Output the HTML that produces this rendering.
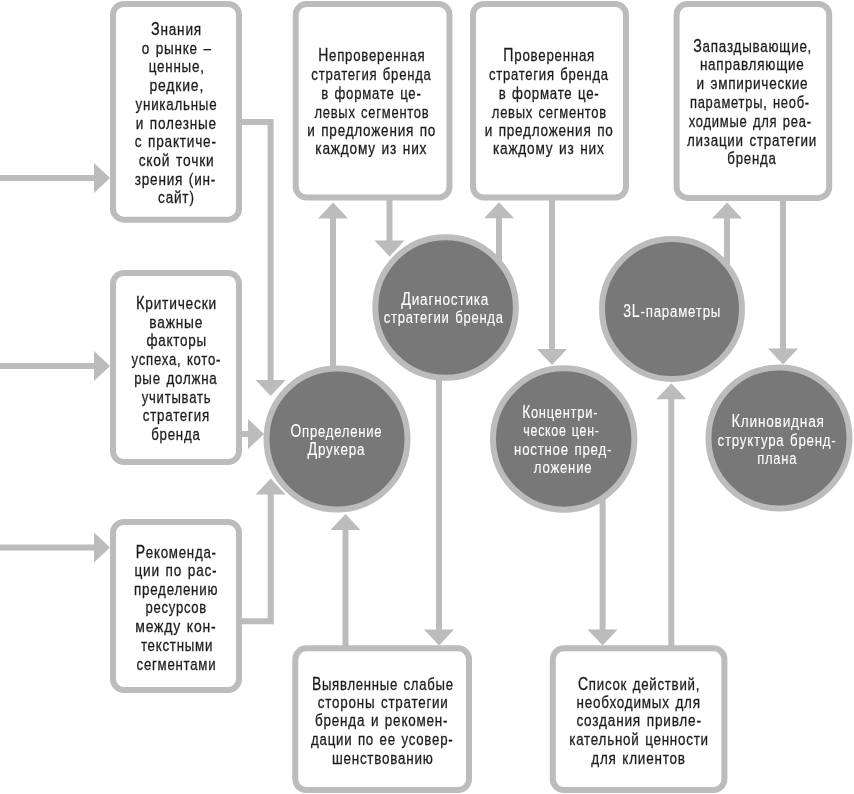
<!DOCTYPE html>
<html><head><meta charset="utf-8"><style>
html,body{margin:0;padding:0;background:#fff;width:854px;height:794px;overflow:hidden}
svg{display:block;font-family:"Liberation Sans",sans-serif;will-change:transform}
</style></head><body>
<svg width="854" height="794" viewBox="0 0 854 794">
<path d="M0.00 178.00 L95.00 178.00" fill="none" stroke="#bcbcbc" stroke-width="6.0"/>
<path d="M0.00 366.00 L95.00 366.00" fill="none" stroke="#bcbcbc" stroke-width="6.0"/>
<path d="M0.00 547.50 L95.00 547.50" fill="none" stroke="#bcbcbc" stroke-width="6.0"/>
<path d="M240.00 122.00 L270.60 122.00 L270.60 381.00" fill="none" stroke="#bcbcbc" stroke-width="6.0"/>
<path d="M240.00 434.00 L249.00 434.00" fill="none" stroke="#bcbcbc" stroke-width="6.0"/>
<path d="M240.00 621.30 L270.70 621.30 L270.70 493.00" fill="none" stroke="#bcbcbc" stroke-width="6.0"/>
<path d="M333.00 400.00 L333.00 217.00" fill="none" stroke="#bcbcbc" stroke-width="6.0"/>
<path d="M389.50 198.00 L389.50 241.00" fill="none" stroke="#bcbcbc" stroke-width="6.0"/>
<path d="M499.00 300.00 L499.00 217.00" fill="none" stroke="#bcbcbc" stroke-width="6.0"/>
<path d="M552.00 198.00 L552.00 350.00" fill="none" stroke="#bcbcbc" stroke-width="6.0"/>
<path d="M439.00 340.00 L439.00 631.00" fill="none" stroke="#bcbcbc" stroke-width="6.0"/>
<path d="M345.50 648.00 L345.50 528.00" fill="none" stroke="#bcbcbc" stroke-width="6.0"/>
<path d="M602.60 470.00 L602.60 631.00" fill="none" stroke="#bcbcbc" stroke-width="6.0"/>
<path d="M671.30 648.00 L671.30 398.00" fill="none" stroke="#bcbcbc" stroke-width="6.0"/>
<path d="M727.00 300.00 L727.00 217.00" fill="none" stroke="#bcbcbc" stroke-width="6.0"/>
<path d="M783.00 198.00 L783.00 351.00" fill="none" stroke="#bcbcbc" stroke-width="6.0"/>
<polygon points="110.00,178.00 94.00,163.00 94.00,193.00" fill="#bcbcbc"/>
<polygon points="110.00,366.00 94.00,351.00 94.00,381.00" fill="#bcbcbc"/>
<polygon points="110.00,547.50 94.00,532.50 94.00,562.50" fill="#bcbcbc"/>
<polygon points="270.60,396.00 255.60,380.00 285.60,380.00" fill="#bcbcbc"/>
<polygon points="264.00,434.00 248.00,419.00 248.00,449.00" fill="#bcbcbc"/>
<polygon points="270.70,478.50 255.70,494.50 285.70,494.50" fill="#bcbcbc"/>
<polygon points="333.00,202.50 318.00,218.50 348.00,218.50" fill="#bcbcbc"/>
<polygon points="389.50,256.50 374.50,240.50 404.50,240.50" fill="#bcbcbc"/>
<polygon points="499.00,202.20 484.00,218.20 514.00,218.20" fill="#bcbcbc"/>
<polygon points="552.00,365.00 537.00,349.00 567.00,349.00" fill="#bcbcbc"/>
<polygon points="439.00,645.50 424.00,629.50 454.00,629.50" fill="#bcbcbc"/>
<polygon points="345.50,514.00 330.50,530.00 360.50,530.00" fill="#bcbcbc"/>
<polygon points="602.60,645.50 587.60,629.50 617.60,629.50" fill="#bcbcbc"/>
<polygon points="671.30,383.30 656.30,399.30 686.30,399.30" fill="#bcbcbc"/>
<polygon points="727.00,202.50 712.00,218.50 742.00,218.50" fill="#bcbcbc"/>
<polygon points="783.00,364.60 768.00,348.60 798.00,348.60" fill="#bcbcbc"/>
<rect x="113.00" y="4.00" width="126.00" height="215.70" rx="11.00" fill="#fff" stroke="#bcbcbc" stroke-width="6.0"/>
<rect x="113.00" y="273.00" width="126.00" height="189.00" rx="11.00" fill="#fff" stroke="#bcbcbc" stroke-width="6.0"/>
<rect x="113.00" y="522.00" width="126.00" height="168.00" rx="11.00" fill="#fff" stroke="#bcbcbc" stroke-width="6.0"/>
<rect x="295.70" y="4.00" width="153.80" height="193.50" rx="11.00" fill="#fff" stroke="#bcbcbc" stroke-width="6.0"/>
<rect x="473.00" y="4.00" width="153.00" height="193.50" rx="11.00" fill="#fff" stroke="#bcbcbc" stroke-width="6.0"/>
<rect x="676.60" y="4.00" width="152.60" height="193.90" rx="11.00" fill="#fff" stroke="#bcbcbc" stroke-width="6.0"/>
<rect x="295.30" y="648.30" width="173.70" height="141.70" rx="11.00" fill="#fff" stroke="#bcbcbc" stroke-width="6.0"/>
<rect x="552.80" y="648.30" width="171.60" height="141.70" rx="11.00" fill="#fff" stroke="#bcbcbc" stroke-width="6.0"/>
<circle cx="337" cy="439" r="70.50" fill="#787878" stroke="#bcbcbc" stroke-width="6.0"/>
<circle cx="445.6" cy="307.5" r="70.30" fill="#787878" stroke="#bcbcbc" stroke-width="6.0"/>
<circle cx="563.7" cy="439" r="70.70" fill="#787878" stroke="#bcbcbc" stroke-width="6.0"/>
<circle cx="672" cy="309" r="70.00" fill="#787878" stroke="#bcbcbc" stroke-width="6.0"/>
<circle cx="779" cy="438" r="70.50" fill="#787878" stroke="#bcbcbc" stroke-width="6.0"/>
<g font-family="Liberation Sans, sans-serif" font-size="17.4" letter-spacing="1.0" word-spacing="1.5">
<text x="150.97" y="34.90" textLength="50.97" lengthAdjust="spacingAndGlyphs" fill="#1c1c1c" stroke="#1c1c1c" stroke-width="0.3"><tspan font-size="18.44">З</tspan>нания</text>
<text x="141.73" y="53.60" textLength="70.08" lengthAdjust="spacingAndGlyphs" fill="#1c1c1c" stroke="#1c1c1c" stroke-width="0.3">о рынке –</text>
<text x="148.81" y="71.80" textLength="55.83" lengthAdjust="spacingAndGlyphs" fill="#1c1c1c" stroke="#1c1c1c" stroke-width="0.3">ценные,</text>
<text x="149.45" y="90.80" textLength="54.67" lengthAdjust="spacingAndGlyphs" fill="#1c1c1c" stroke="#1c1c1c" stroke-width="0.3">редкие,</text>
<text x="135.59" y="109.80" textLength="81.84" lengthAdjust="spacingAndGlyphs" fill="#1c1c1c" stroke="#1c1c1c" stroke-width="0.3">уникальные</text>
<text x="135.80" y="128.50" textLength="81.03" lengthAdjust="spacingAndGlyphs" fill="#1c1c1c" stroke="#1c1c1c" stroke-width="0.3">и полезные</text>
<text x="134.73" y="147.10" textLength="82.03" lengthAdjust="spacingAndGlyphs" fill="#1c1c1c" stroke="#1c1c1c" stroke-width="0.3">с практиче-</text>
<text x="138.68" y="166.00" textLength="75.88" lengthAdjust="spacingAndGlyphs" fill="#1c1c1c" stroke="#1c1c1c" stroke-width="0.3">ской точки</text>
<text x="134.72" y="184.70" textLength="81.40" lengthAdjust="spacingAndGlyphs" fill="#1c1c1c" stroke="#1c1c1c" stroke-width="0.3">зрения (ин-</text>
<text x="158.10" y="203.30" textLength="36.59" lengthAdjust="spacingAndGlyphs" fill="#1c1c1c" stroke="#1c1c1c" stroke-width="0.3">сайт)</text>
<text x="135.97" y="309.30" textLength="80.95" lengthAdjust="spacingAndGlyphs" fill="#1c1c1c" stroke="#1c1c1c" stroke-width="0.3"><tspan font-size="18.44">К</tspan>ритически</text>
<text x="149.37" y="327.90" textLength="53.81" lengthAdjust="spacingAndGlyphs" fill="#1c1c1c" stroke="#1c1c1c" stroke-width="0.3">важные</text>
<text x="146.38" y="346.40" textLength="60.62" lengthAdjust="spacingAndGlyphs" fill="#1c1c1c" stroke="#1c1c1c" stroke-width="0.3">факторы</text>
<text x="131.60" y="365.10" textLength="89.53" lengthAdjust="spacingAndGlyphs" fill="#1c1c1c" stroke="#1c1c1c" stroke-width="0.3">успеха, кото-</text>
<text x="134.14" y="384.20" textLength="83.41" lengthAdjust="spacingAndGlyphs" fill="#1c1c1c" stroke="#1c1c1c" stroke-width="0.3">рые должна</text>
<text x="141.71" y="402.90" textLength="69.51" lengthAdjust="spacingAndGlyphs" fill="#1c1c1c" stroke="#1c1c1c" stroke-width="0.3">учитывать</text>
<text x="142.73" y="421.20" textLength="67.20" lengthAdjust="spacingAndGlyphs" fill="#1c1c1c" stroke="#1c1c1c" stroke-width="0.3">стратегия</text>
<text x="151.21" y="439.90" textLength="49.34" lengthAdjust="spacingAndGlyphs" fill="#1c1c1c" stroke="#1c1c1c" stroke-width="0.3">бренда</text>
<text x="135.70" y="557.50" textLength="81.10" lengthAdjust="spacingAndGlyphs" fill="#1c1c1c" stroke="#1c1c1c" stroke-width="0.3"><tspan font-size="18.44">Р</tspan>екоменда-</text>
<text x="134.47" y="576.40" textLength="82.94" lengthAdjust="spacingAndGlyphs" fill="#1c1c1c" stroke="#1c1c1c" stroke-width="0.3">ции по рас-</text>
<text x="134.00" y="594.70" textLength="84.27" lengthAdjust="spacingAndGlyphs" fill="#1c1c1c" stroke="#1c1c1c" stroke-width="0.3">пределению</text>
<text x="145.45" y="613.30" textLength="61.61" lengthAdjust="spacingAndGlyphs" fill="#1c1c1c" stroke="#1c1c1c" stroke-width="0.3">ресурсов</text>
<text x="135.30" y="631.90" textLength="81.16" lengthAdjust="spacingAndGlyphs" fill="#1c1c1c" stroke="#1c1c1c" stroke-width="0.3">между кон-</text>
<text x="140.89" y="650.60" textLength="72.22" lengthAdjust="spacingAndGlyphs" fill="#1c1c1c" stroke="#1c1c1c" stroke-width="0.3">текстными</text>
<text x="136.52" y="669.50" textLength="79.85" lengthAdjust="spacingAndGlyphs" fill="#1c1c1c" stroke="#1c1c1c" stroke-width="0.3">сегментами</text>
<text x="318.15" y="61.40" textLength="107.29" lengthAdjust="spacingAndGlyphs" fill="#1c1c1c" stroke="#1c1c1c" stroke-width="0.3"><tspan font-size="18.44">Н</tspan>епроверенная</text>
<text x="311.35" y="80.20" textLength="120.26" lengthAdjust="spacingAndGlyphs" fill="#1c1c1c" stroke="#1c1c1c" stroke-width="0.3">стратегия бренда</text>
<text x="321.21" y="99.00" textLength="100.39" lengthAdjust="spacingAndGlyphs" fill="#1c1c1c" stroke="#1c1c1c" stroke-width="0.3">в формате це-</text>
<text x="314.43" y="117.90" textLength="115.04" lengthAdjust="spacingAndGlyphs" fill="#1c1c1c" stroke="#1c1c1c" stroke-width="0.3">левых сегментов</text>
<text x="307.21" y="135.80" textLength="128.97" lengthAdjust="spacingAndGlyphs" fill="#1c1c1c" stroke="#1c1c1c" stroke-width="0.3">и предложения по</text>
<text x="315.34" y="154.30" textLength="111.91" lengthAdjust="spacingAndGlyphs" fill="#1c1c1c" stroke="#1c1c1c" stroke-width="0.3">каждому из них</text>
<text x="503.33" y="61.40" textLength="91.75" lengthAdjust="spacingAndGlyphs" fill="#1c1c1c" stroke="#1c1c1c" stroke-width="0.3"><tspan font-size="18.44">П</tspan>роверенная</text>
<text x="488.92" y="80.20" textLength="119.97" lengthAdjust="spacingAndGlyphs" fill="#1c1c1c" stroke="#1c1c1c" stroke-width="0.3">стратегия бренда</text>
<text x="498.75" y="99.00" textLength="100.71" lengthAdjust="spacingAndGlyphs" fill="#1c1c1c" stroke="#1c1c1c" stroke-width="0.3">в формате це-</text>
<text x="491.83" y="117.90" textLength="115.16" lengthAdjust="spacingAndGlyphs" fill="#1c1c1c" stroke="#1c1c1c" stroke-width="0.3">левых сегментов</text>
<text x="484.63" y="135.80" textLength="129.03" lengthAdjust="spacingAndGlyphs" fill="#1c1c1c" stroke="#1c1c1c" stroke-width="0.3">и предложения по</text>
<text x="492.97" y="154.30" textLength="111.59" lengthAdjust="spacingAndGlyphs" fill="#1c1c1c" stroke="#1c1c1c" stroke-width="0.3">каждому из них</text>
<text x="693.26" y="51.80" textLength="118.87" lengthAdjust="spacingAndGlyphs" fill="#1c1c1c" stroke="#1c1c1c" stroke-width="0.3"><tspan font-size="18.44">З</tspan>апаздывающие,</text>
<text x="699.90" y="70.20" textLength="104.66" lengthAdjust="spacingAndGlyphs" fill="#1c1c1c" stroke="#1c1c1c" stroke-width="0.3">направляющие</text>
<text x="696.42" y="88.70" textLength="112.03" lengthAdjust="spacingAndGlyphs" fill="#1c1c1c" stroke="#1c1c1c" stroke-width="0.3">и эмпирические</text>
<text x="689.96" y="108.30" textLength="119.88" lengthAdjust="spacingAndGlyphs" fill="#1c1c1c" stroke="#1c1c1c" stroke-width="0.3">параметры, необ-</text>
<text x="688.67" y="127.20" textLength="123.04" lengthAdjust="spacingAndGlyphs" fill="#1c1c1c" stroke="#1c1c1c" stroke-width="0.3">ходимые для реа-</text>
<text x="686.96" y="145.50" textLength="130.18" lengthAdjust="spacingAndGlyphs" fill="#1c1c1c" stroke="#1c1c1c" stroke-width="0.3">лизации стратегии</text>
<text x="727.30" y="163.60" textLength="49.40" lengthAdjust="spacingAndGlyphs" fill="#1c1c1c" stroke="#1c1c1c" stroke-width="0.3">бренда</text>
<text x="311.92" y="689.60" textLength="141.85" lengthAdjust="spacingAndGlyphs" fill="#1c1c1c" stroke="#1c1c1c" stroke-width="0.3"><tspan font-size="18.44">В</tspan>ыявленные слабые</text>
<text x="317.86" y="707.90" textLength="130.70" lengthAdjust="spacingAndGlyphs" fill="#1c1c1c" stroke="#1c1c1c" stroke-width="0.3">стороны стратегии</text>
<text x="315.08" y="726.40" textLength="133.15" lengthAdjust="spacingAndGlyphs" fill="#1c1c1c" stroke="#1c1c1c" stroke-width="0.3">бренда и рекомен-</text>
<text x="311.05" y="744.90" textLength="142.40" lengthAdjust="spacingAndGlyphs" fill="#1c1c1c" stroke="#1c1c1c" stroke-width="0.3">дации по ее усовер-</text>
<text x="331.95" y="763.60" textLength="101.61" lengthAdjust="spacingAndGlyphs" fill="#1c1c1c" stroke="#1c1c1c" stroke-width="0.3">шенствованию</text>
<text x="577.92" y="689.60" textLength="122.24" lengthAdjust="spacingAndGlyphs" fill="#1c1c1c" stroke="#1c1c1c" stroke-width="0.3"><tspan font-size="18.44">С</tspan>писок действий,</text>
<text x="576.60" y="707.90" textLength="124.16" lengthAdjust="spacingAndGlyphs" fill="#1c1c1c" stroke="#1c1c1c" stroke-width="0.3">необходимых для</text>
<text x="576.38" y="726.40" textLength="125.39" lengthAdjust="spacingAndGlyphs" fill="#1c1c1c" stroke="#1c1c1c" stroke-width="0.3">создания привле-</text>
<text x="569.28" y="744.90" textLength="139.51" lengthAdjust="spacingAndGlyphs" fill="#1c1c1c" stroke="#1c1c1c" stroke-width="0.3">кательной ценности</text>
<text x="591.30" y="763.60" textLength="94.37" lengthAdjust="spacingAndGlyphs" fill="#1c1c1c" stroke="#1c1c1c" stroke-width="0.3">для клиентов</text>
<text x="290.52" y="436.50" textLength="91.87" lengthAdjust="spacingAndGlyphs" fill="#fff" stroke="#fff" stroke-width="0.12"><tspan font-size="18.44">О</tspan>пределение</text>
<text x="307.39" y="455.20" textLength="58.01" lengthAdjust="spacingAndGlyphs" fill="#fff" stroke="#fff" stroke-width="0.12"><tspan font-size="18.44">Д</tspan>рукера</text>
<text x="401.17" y="304.70" textLength="87.96" lengthAdjust="spacingAndGlyphs" fill="#fff" stroke="#fff" stroke-width="0.12"><tspan font-size="18.44">Д</tspan>иагностика</text>
<text x="383.74" y="323.20" textLength="120.01" lengthAdjust="spacingAndGlyphs" fill="#fff" stroke="#fff" stroke-width="0.12">стратегии бренда</text>
<text x="522.16" y="417.80" textLength="76.04" lengthAdjust="spacingAndGlyphs" fill="#fff" stroke="#fff" stroke-width="0.12"><tspan font-size="18.44">К</tspan>онцентри-</text>
<text x="523.31" y="436.30" textLength="76.35" lengthAdjust="spacingAndGlyphs" fill="#fff" stroke="#fff" stroke-width="0.12">ческое цен-</text>
<text x="514.05" y="455.00" textLength="98.09" lengthAdjust="spacingAndGlyphs" fill="#fff" stroke="#fff" stroke-width="0.12">ностное пред-</text>
<text x="533.83" y="473.30" textLength="58.54" lengthAdjust="spacingAndGlyphs" fill="#fff" stroke="#fff" stroke-width="0.12">ложение</text>
<text x="623.24" y="316.70" textLength="97.99" lengthAdjust="spacingAndGlyphs" fill="#fff" stroke="#fff" stroke-width="0.12"><tspan font-size="18.44">3</tspan><tspan font-size="18.44">L</tspan>-параметры</text>
<text x="731.46" y="427.40" textLength="93.35" lengthAdjust="spacingAndGlyphs" fill="#fff" stroke="#fff" stroke-width="0.12"><tspan font-size="18.44">К</tspan>линовидная</text>
<text x="717.52" y="446.00" textLength="119.05" lengthAdjust="spacingAndGlyphs" fill="#fff" stroke="#fff" stroke-width="0.12">структура бренд-</text>
<text x="757.13" y="464.30" textLength="40.14" lengthAdjust="spacingAndGlyphs" fill="#fff" stroke="#fff" stroke-width="0.12">плана</text>
</g>
</svg>
</body></html>
